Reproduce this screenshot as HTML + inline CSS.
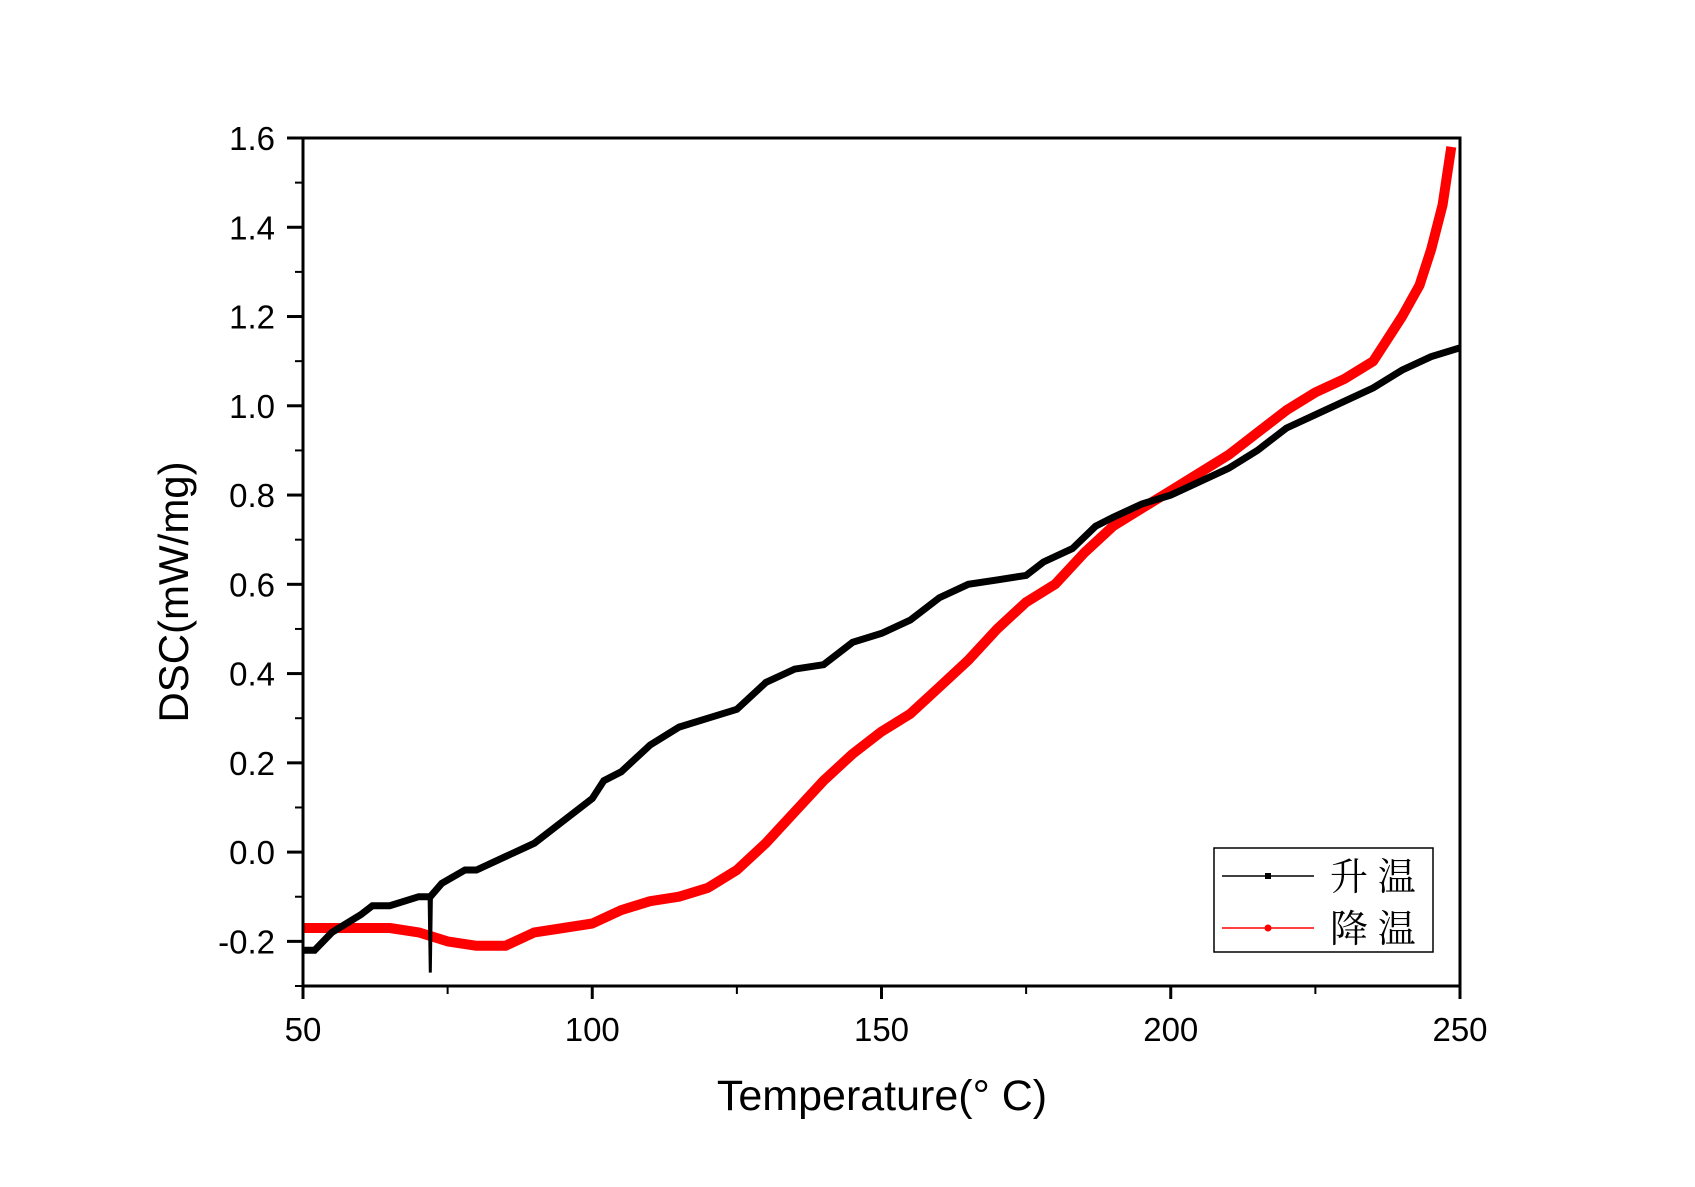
<!DOCTYPE html>
<html><head><meta charset="utf-8"><style>
html,body{margin:0;padding:0;background:#fff;}
svg text{font-family:"Liberation Sans","Noto Sans CJK SC",sans-serif;}
</style></head><body>
<svg id="chart" width="1695" height="1182" xmlns="http://www.w3.org/2000/svg">
<rect width="1695" height="1182" fill="#fff"/>
<g id="marks"></g>
<g id="axes"></g>
<g>
<rect x="1214" y="848" width="219" height="104" fill="#fff" stroke="#000" stroke-width="1.5"/>
<line x1="1222" y1="876" x2="1314" y2="876" stroke="#000" stroke-width="1.5"/>
<rect x="1265" y="873" width="6" height="6" fill="#000"/>
<text x="1330" y="890" font-size="38" style="font-family:'Noto Serif CJK SC',serif">升  温</text>
<line x1="1222" y1="928" x2="1314" y2="928" stroke="#f00" stroke-width="1.5"/>
<circle cx="1268" cy="928" r="3.5" fill="#f00"/>
<text x="1330" y="942" font-size="38" style="font-family:'Noto Serif CJK SC',serif">降  温</text>
</g>
<text x="882" y="1110" font-size="43" text-anchor="middle">Temperature(°  C)</text>
<text transform="translate(188,592) rotate(-90)" font-size="42" text-anchor="middle">DSC(mW/mg)</text>
</svg>
<script>
const heatX=[50,52,55,60,62,65,70,72,74,78,80,85,90,95,100,102,105,110,115,120,125,130,135,140,145,150,155,160,165,170,175,178,183,187,190,195,200,205,210,215,220,225,230,235,240,245,250];
const heatY=[-0.22,-0.22,-0.18,-0.14,-0.12,-0.12,-0.10,-0.10,-0.07,-0.04,-0.04,-0.01,0.02,0.07,0.12,0.16,0.18,0.24,0.28,0.30,0.32,0.38,0.41,0.42,0.47,0.49,0.52,0.57,0.60,0.61,0.62,0.65,0.68,0.73,0.75,0.78,0.80,0.83,0.86,0.90,0.95,0.98,1.01,1.04,1.08,1.11,1.13];
const spikeX=[71.8,72,72.2];
const spikeY=[-0.10,-0.27,-0.10];
const coolX=[50,55,60,65,70,75,80,85,90,95,100,105,110,115,120,125,130,135,140,145,150,155,160,165,170,175,180,185,190,195,200,205,210,215,220,225,230,235,237,240,243,245,247,248.5];
const coolY=[-0.17,-0.17,-0.17,-0.17,-0.18,-0.20,-0.21,-0.21,-0.18,-0.17,-0.16,-0.13,-0.11,-0.10,-0.08,-0.04,0.02,0.09,0.16,0.22,0.27,0.31,0.37,0.43,0.50,0.56,0.60,0.67,0.73,0.77,0.81,0.85,0.89,0.94,0.99,1.03,1.06,1.10,1.14,1.20,1.27,1.35,1.45,1.58];
const xTicks=[50,100,150,200,250];
const yTicks=[-0.2,0.0,0.2,0.4,0.6,0.8,1.0,1.2,1.4,1.6];
const L=303,R=1460,T=138,B=986,xMin=50,xMax=250,yMin=-0.3,yMax=1.6;
const sx=v=>L+(v-xMin)/(xMax-xMin)*(R-L);
const sy=v=>B-(v-yMin)/(yMax-yMin)*(B-T);
const NS="http://www.w3.org/2000/svg";
const marks=document.getElementById('marks'),axes=document.getElementById('axes');
function mk(tag,attrs,parent){const e=document.createElementNS(NS,tag);for(const k in attrs)e.setAttribute(k,attrs[k]);parent.appendChild(e);return e;}
function series(xs,ys){return xs.map((x,i)=>sx(x).toFixed(1)+','+sy(ys[i]).toFixed(1)).join(' ');}
const cool=mk('polyline',{points:series(coolX,coolY),fill:'none',stroke:'#f00','stroke-width':10,'stroke-linejoin':'round'},marks);


const spike=mk('polyline',{points:series(spikeX,spikeY),fill:'none',stroke:'#000','stroke-width':3},marks);


const heat=mk('polyline',{points:series(heatX,heatY),fill:'none',stroke:'#000','stroke-width':7,'stroke-linejoin':'miter'},marks);


const frame=mk('rect',{x:L,y:T,width:R-L,height:B-T,fill:'none',stroke:'#000','stroke-width':3},axes);


xTicks.forEach(v=>{
 const t=mk('line',{x1:sx(v),x2:sx(v),y1:B,y2:B+13,stroke:'#000','stroke-width':3},axes);
 
 
 const lb=mk('text',{x:sx(v),y:B+55,'font-size':33,'text-anchor':'middle'},axes);
 lb.textContent=String(v);
 
 
});
for(let i=0;i<xTicks.length-1;i++){
 const v=(xTicks[i]+xTicks[i+1])/2;
 const t=mk('line',{x1:sx(v),x2:sx(v),y1:B,y2:B+8,stroke:'#000','stroke-width':2},axes);
 
 
}
yTicks.forEach(v=>{
 const t=mk('line',{x1:L-16,x2:L,y1:sy(v),y2:sy(v),stroke:'#000','stroke-width':3},axes);
 
 
 const lb=mk('text',{x:L-28,y:sy(v)+12,'font-size':33,'text-anchor':'end'},axes);
 lb.textContent=v.toFixed(1);
 
 
});
for(let i=0;i<yTicks.length;i++){
 const v=yTicks[i]-0.1;
 const t=mk('line',{x1:L-8,x2:L,y1:sy(v),y2:sy(v),stroke:'#000','stroke-width':2},axes);
 
 
}
</script>
</body></html>
